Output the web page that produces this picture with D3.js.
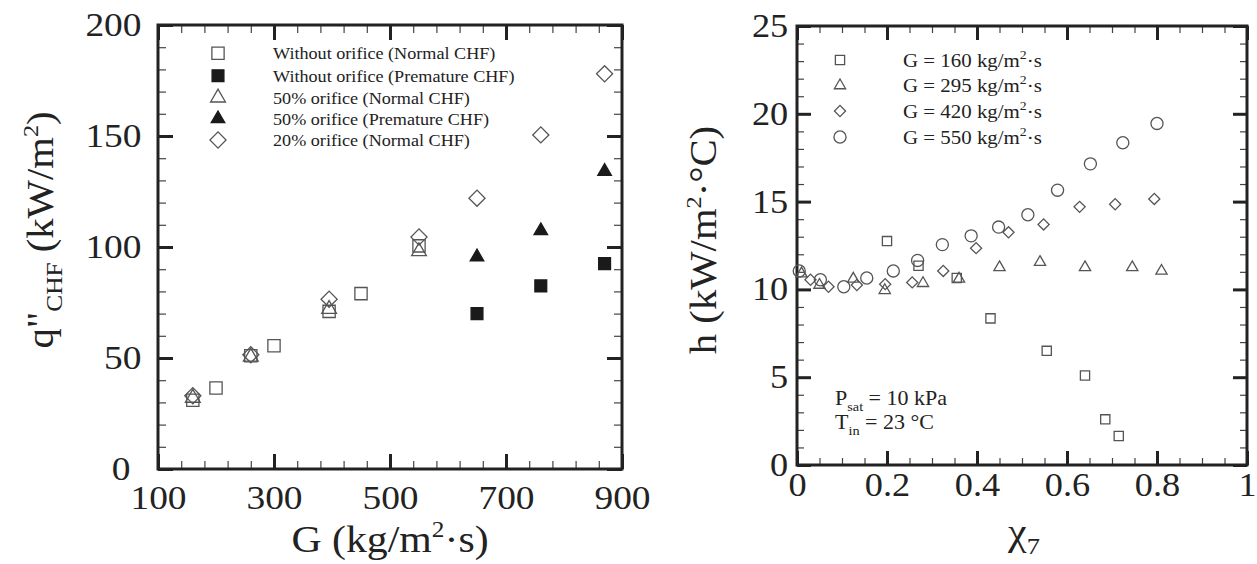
<!DOCTYPE html>
<html><head><meta charset="utf-8">
<script src="https://cdn.jsdelivr.net/npm/d3@7"></script>
<style>
body{margin:0;background:#fff}
svg{display:block}
text{font-family:"Liberation Serif","Times New Roman",serif;fill:#222}
</style>
</head><body>
<svg id="chart" width="1257" height="564"></svg>
<script>
// ---------- Left chart data: q"CHF vs G ----------
const leftXTicks = [100, 300, 500, 700, 900];
const leftYTicks = [0, 50, 100, 150, 200];
const gNoOrificeNormal = [160, 200, 260, 300, 395, 450, 550];
const qNoOrificeNormal = [31, 36.5, 51, 55.5, 71, 79, 100.5];
const gNoOrificePremature = [650, 760, 870];
const qNoOrificePremature = [70, 82.5, 92.5];
const g50Normal = [160, 260, 395, 550];
const q50Normal = [32, 50.5, 72, 98];
const g50Premature = [650, 760, 870];
const q50Premature = [95.5, 107.3, 134];
const g20Normal = [160, 260, 395, 550, 650, 760, 870];
const q20Normal = [33, 51.5, 76.5, 104.5, 122, 150.5, 178];
const leftLegend = ["Without orifice (Normal CHF)", "Without orifice (Premature CHF)",
  "50% orifice (Normal CHF)", "50% orifice (Premature CHF)", "20% orifice (Normal CHF)"];

// ---------- Right chart data: h vs quality ----------
const rightXTicks = [0, 0.2, 0.4, 0.6, 0.8, 1];
const rightXLabels = ["0", "0.2", "0.4", "0.6", "0.8", "1"];
const rightYTicks = [0, 5, 10, 15, 20, 25];
const x160 = [0.2, 0.27, 0.355, 0.43, 0.555, 0.64, 0.685, 0.715];
const h160 = [12.75, 11.35, 10.65, 8.35, 6.5, 5.1, 2.6, 1.65];
const x295 = [0.01, 0.05, 0.125, 0.195, 0.28, 0.36, 0.45, 0.54, 0.64, 0.745, 0.81];
const h295 = [10.9, 10.25, 10.6, 9.95, 10.35, 10.6, 11.25, 11.55, 11.25, 11.25, 11.05];
const x420 = [0.03, 0.07, 0.133, 0.196, 0.256, 0.325, 0.398, 0.47, 0.548, 0.628, 0.707, 0.794];
const h420 = [10.55, 10.15, 10.25, 10.3, 10.4, 11.05, 12.35, 13.25, 13.7, 14.7, 14.85, 15.15];
const x550 = [0.005, 0.052, 0.104, 0.155, 0.214, 0.268, 0.323, 0.387, 0.448, 0.513, 0.579, 0.652, 0.724, 0.8];
const h550 = [11.05, 10.55, 10.15, 10.65, 11.05, 11.65, 12.55, 13.05, 13.55, 14.25, 15.65, 17.15, 18.35, 19.45];
const rightLegendG = ["160", "295", "420", "550"];

const SX = 1.1; // horizontal text stretch of the reference
const svg = d3.select("#chart");
const AX = "#222";

function stretchTexts(sel) {
  sel.selectAll("text").attr("transform", `scale(${SX},1)`);
}

function frame(x, y, xMajor, xMinor, yMajor, yMinor, xFmt, opt) {
  const g = svg.append("g");
  const [x0, x1] = x.range(), [y0, y1] = y.range();
  const maj = opt.major, min = opt.minor;
  // minor ticks
  const mb = g.append("g").attr("transform", `translate(0,${y0})`)
    .call(d3.axisBottom(x).tickValues(xMinor).tickSize(-min).tickFormat(""));
  const mt = g.append("g").attr("transform", `translate(0,${y1})`)
    .call(d3.axisTop(x).tickValues(xMinor).tickSize(-min).tickFormat(""));
  const ml = g.append("g").attr("transform", `translate(${x0},0)`)
    .call(d3.axisLeft(y).tickValues(yMinor).tickSize(-min).tickFormat(""));
  const mr = g.append("g").attr("transform", `translate(${x1},0)`)
    .call(d3.axisRight(y).tickValues(yMinor).tickSize(-min).tickFormat(""));
  [mb, mt, ml, mr].forEach(s => {
    s.select(".domain").remove();
    s.selectAll("line").attr("stroke", "#444").attr("stroke-width", 1.2);
  });
  // major ticks
  const b = g.append("g").attr("transform", `translate(0,${y0})`)
    .call(d3.axisBottom(x).tickValues(xMajor).tickSize(-maj).tickPadding(opt.xPad).tickFormat(xFmt));
  const t = g.append("g").attr("transform", `translate(0,${y1})`)
    .call(d3.axisTop(x).tickValues(xMajor).tickSize(-maj).tickFormat(""));
  const l = g.append("g").attr("transform", `translate(${x0},0)`)
    .call(d3.axisLeft(y).tickValues(yMajor).tickSize(-maj).tickPadding(opt.yPad));
  const r = g.append("g").attr("transform", `translate(${x1},0)`)
    .call(d3.axisRight(y).tickValues(yMajor).tickSize(-maj).tickFormat(""));
  [b, t, l, r].forEach(s => {
    s.select(".domain").remove();
    s.selectAll("line").attr("stroke", AX).attr("stroke-width", 3);
  });
  [b, l].forEach(s => {
    s.selectAll("text").attr("font-size", opt.font).attr("font-family", "Liberation Serif").attr("fill", AX);
    stretchTexts(s);
  });
  if (opt.zeroShift) {
    l.selectAll(".tick").filter(d => d === 0).select("text").attr("x", -(opt.yPad + opt.zeroShift));
  }
  g.append("rect").attr("x", x0).attr("y", y1).attr("width", x1 - x0).attr("height", y0 - y1)
    .attr("fill", "none").attr("stroke", AX).attr("stroke-width", 3);
  return g;
}

function label(x, y, size, anchor, rotate) {
  return svg.append("text")
    .attr("transform", `translate(${x},${y})` + (rotate ? ` rotate(${rotate})` : "") + ` scale(${SX},1)`)
    .attr("font-size", size).attr("text-anchor", anchor || "start");
}

function marks(g, xs, ys, x, y, type, size, filled, rot) {
  const gen = d3.symbol().type(type).size(size);
  g.selectAll(null).data(xs.map((v, i) => [v, ys[i]])).enter().append("path")
    .attr("d", gen)
    .attr("transform", d => `translate(${x(d[0])},${y(d[1])})` + (rot ? ` rotate(${rot})` : ""))
    .attr("fill", filled ? "#1a1a1a" : "none")
    .attr("stroke", filled ? "#1a1a1a" : "#555")
    .attr("stroke-width", 1.3);
}

// ================= LEFT CHART =================
const xL = d3.scaleLinear().domain([100, 900]).range([158, 622]);
const yL = d3.scaleLinear().domain([0, 200]).range([469, 25]);
const xLMinor = d3.range(100, 901, 40).filter(v => (v - 100) % 200 !== 0);
const yLMinor = d3.range(0, 201, 10).filter(v => v % 50 !== 0);
frame(xL, yL, leftXTicks, xLMinor, leftYTicks, yLMinor, d3.format("d"),
  {major: 15, minor: 8, xPad: 16, yPad: 15, font: 34, zeroShift: 10});

const gLeft = svg.append("g");
const LS = {sq: 150, sqF: 140, tri: 95, triF: 80, dia: 130};
marks(gLeft, g20Normal, q20Normal, xL, yL, d3.symbolSquare, LS.dia, false, 45);
marks(gLeft, gNoOrificeNormal, qNoOrificeNormal, xL, yL, d3.symbolSquare, LS.sq, false);
marks(gLeft, g50Normal, q50Normal, xL, yL, d3.symbolTriangle, LS.tri, false);
marks(gLeft, gNoOrificePremature, qNoOrificePremature, xL, yL, d3.symbolSquare, LS.sqF, true);
marks(gLeft, g50Premature, q50Premature, xL, yL, d3.symbolTriangle, LS.triF, true);

// left legend
const legL = svg.append("g");
const legLRows = [53.3, 75.7, 97.7, 118.8, 140];
const legLSpecs = [
  [d3.symbolSquare, LS.sq, false, 0], [d3.symbolSquare, LS.sqF, true, 0],
  [d3.symbolTriangle, LS.tri, false, 0], [d3.symbolTriangle, LS.triF, true, 0],
  [d3.symbolSquare, LS.dia, false, 45]];
leftLegend.forEach((t, i) => {
  const s = legLSpecs[i];
  legL.append("path").attr("d", d3.symbol().type(s[0]).size(s[1]))
    .attr("transform", `translate(218,${legLRows[i]})` + (s[3] ? ` rotate(${s[3]})` : ""))
    .attr("fill", s[2] ? "#1a1a1a" : "none").attr("stroke", s[2] ? "#1a1a1a" : "#555").attr("stroke-width", 1.3);
  label(273, legLRows[i] + 6, 16.5, "start").text(t);
});

// left axis titles
const tL = label(390, 552, 38, "middle");
tL.append("tspan").text("G (kg/m");
tL.append("tspan").attr("font-size", 23).attr("dy", -15).text("2");
tL.append("tspan").attr("dy", 15).text("·s)");

const yTL = label(53, 230, 37, "middle", -90);
yTL.append("tspan").text("q\"");
yTL.append("tspan").attr("font-size", 23).attr("dy", 9).text("CHF");
yTL.append("tspan").attr("dy", -9).text(" (kW/m");
yTL.append("tspan").attr("font-size", 22).attr("dy", -15).text("2");
yTL.append("tspan").attr("dy", 15).text(")");

// ================= RIGHT CHART =================
const xR = d3.scaleLinear().domain([0, 1]).range([797, 1247]);
const yR = d3.scaleLinear().domain([0, 25]).range([465, 26]);
const xRMinor = d3.range(0, 1.0001, 0.05).filter(v => Math.abs(v * 5 - Math.round(v * 5)) > 1e-6);
const yRMinor = d3.range(0, 26, 1).filter(v => v % 5 !== 0);
frame(xR, yR, rightXTicks, xRMinor, rightYTicks, yRMinor, (d, i) => rightXLabels[i],
  {major: 14, minor: 7, xPad: 8, yPad: 8, font: 33});

const gRight = svg.append("g");
const RS = {sq: 85, tri: 55, dia: 62, circ: 115};
marks(gRight, x160, h160, xR, yR, d3.symbolSquare, RS.sq, false);
marks(gRight, x295, h295, xR, yR, d3.symbolTriangle, RS.tri, false);
marks(gRight, x420, h420, xR, yR, d3.symbolSquare, RS.dia, false, 45);
marks(gRight, x550, h550, xR, yR, d3.symbolCircle, RS.circ, false);

// right legend
const legR = svg.append("g");
const legRRows = [60, 85.5, 111, 137];
const legRSpecs = [[d3.symbolSquare, RS.sq, 0], [d3.symbolTriangle, RS.tri, 0],
  [d3.symbolSquare, RS.dia, 45], [d3.symbolCircle, RS.circ, 0]];
rightLegendG.forEach((gv, i) => {
  const s = legRSpecs[i];
  legR.append("path").attr("d", d3.symbol().type(s[0]).size(s[1]))
    .attr("transform", `translate(840,${legRRows[i]})` + (s[2] ? ` rotate(${s[2]})` : ""))
    .attr("fill", "none").attr("stroke", "#555").attr("stroke-width", 1.3);
  const t = label(903, legRRows[i] + 6.5, 19, "start");
  t.append("tspan").text(`G = ${gv} kg/m`);
  t.append("tspan").attr("font-size", 12.5).attr("dy", -8).text("2");
  t.append("tspan").attr("dy", 8).text("·s");
});

// annotation
const p1 = label(835, 405, 20, "start");
p1.append("tspan").text("P");
p1.append("tspan").attr("font-size", 13).attr("dy", 6).text("sat");
p1.append("tspan").attr("dy", -6).text(" = 10 kPa");
const p2 = label(835, 429, 20, "start");
p2.append("tspan").text("T");
p2.append("tspan").attr("font-size", 13).attr("dy", 6).text("in");
p2.append("tspan").attr("dy", -6).text(" = 23 °C");

// right axis titles
const tR = label(1024, 545, 38, "middle");
tR.append("tspan").text("χ");
tR.append("tspan").attr("font-size", 24).attr("dy", 9).text("7");

const yTR = label(716, 240, 37, "middle", -90);
yTR.append("tspan").text("h (kW/m");
yTR.append("tspan").attr("font-size", 22).attr("dy", -15).text("2");
yTR.append("tspan").attr("dy", 15).text("·°C)");
</script>
</body></html>
